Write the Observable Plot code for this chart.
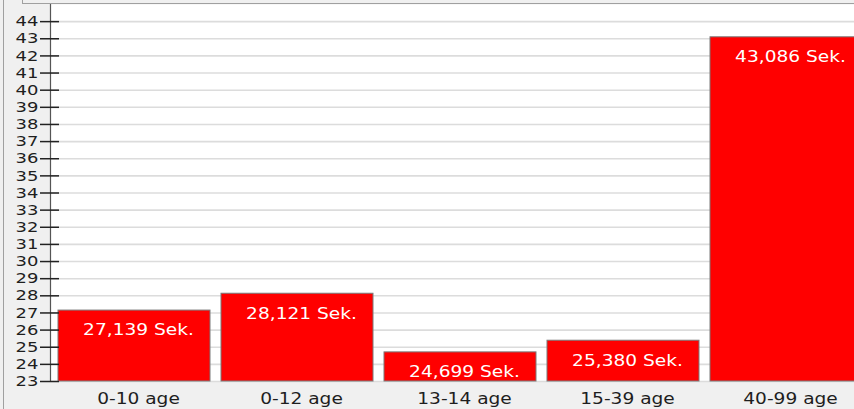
<!DOCTYPE html>
<html>
<head>
<meta charset="utf-8">
<script src="https://cdn.jsdelivr.net/npm/d3@7"></script>
<script src="https://cdn.jsdelivr.net/npm/@observablehq/plot@0.6"></script>
<style>
  html, body { margin: 0; padding: 0; background: #f0f0f0; }
  #wrap { position: relative; width: 854px; height: 409px; overflow: hidden; }
  #wrap svg { display: block; }
  .edge { position: absolute; background: #a0a0a0; }
</style>
</head>
<body>
<div id="wrap">
  <div class="edge" style="left:3px;top:0;width:1px;height:409px;"></div>
  <div class="edge" style="left:22px;top:3px;width:832px;height:1px;"></div>
  <div class="edge" style="left:22px;top:0;width:1px;height:3px;"></div>
</div>
<script>
const categories = ["0-10 age", "0-12 age", "13-14 age", "15-39 age", "40-99 age"];
const values = [27.139, 28.121, 24.699, 25.380, 43.086];
const yTicks = d3.range(23, 45);
const yBase = 23;
const yTop = 45;
const unit = " Sek.";

const data = categories.map((c, i) => ({cat: c, value: values[i]}));
const fmt = v => d3.format(".3f")(v).replace(".", ",") + unit;

const chart = Plot.plot({
  width: 854,
  height: 409,
  marginLeft: 50,
  marginRight: 0,
  marginTop: 4,
  marginBottom: 28,
  style: {background: "transparent", fontFamily: "DejaVu Sans, sans-serif", overflow: "hidden"},
  x: {domain: categories, range: [50, 870.5], paddingInner: 0.067, paddingOuter: 0.043, label: null},
  y: {domain: [yBase, yTop], label: null},
  marks: [
    Plot.frame({fill: "white", stroke: "none"}),
    Plot.ruleY(yTicks, {stroke: "#dcdcdc", strokeWidth: 1.6}),
    Plot.barY(data, {x: "cat", y1: () => yBase, y2: "value", fill: "#ff0000", stroke: "#7a7a7a", strokeWidth: 1, inset: 0}),
    Plot.text(data, {x: "cat", y: "value", text: d => fmt(d.value), dy: 20, dx: 4, fill: "white", fontSize: 15}),
    Plot.frame({anchor: "left", stroke: "#555", strokeWidth: 1.2}),
    Plot.axisY({ticks: yTicks, tickSize: 19, dx: 9, tickPadding: 2, fontSize: 14.5, color: "#1e1e1e", stroke: "#222", strokeWidth: 1.5, label: null}),
    Plot.axisX({tickSize: 0, tickPadding: 12, dx: 4, fontSize: 15, color: "#1e1e1e", label: null})
  ]
});
// widen glyphs horizontally around each text's anchor point, as in the reference
chart.querySelectorAll("text").forEach(t => {
  const tr = t.getAttribute("transform");
  if (tr) {
    t.setAttribute("transform", tr + " scale(1.24,1)");
  } else {
    const x = +(t.getAttribute("x") || 0), y = +(t.getAttribute("y") || 0);
    t.removeAttribute("x"); t.removeAttribute("y");
    t.setAttribute("transform", `translate(${x},${y}) scale(1.24,1)`);
  }
});
document.getElementById("wrap").appendChild(chart);
</script>
</body>
</html>
